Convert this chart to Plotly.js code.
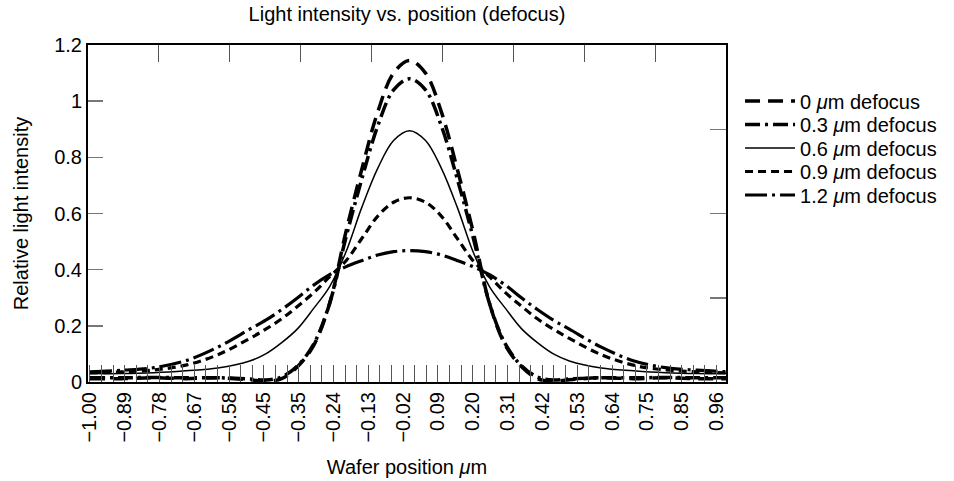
<!DOCTYPE html>
<html>
<head>
<meta charset="utf-8">
<script src="https://cdn.plot.ly/plotly-3.0.1.min.js"></script>
<style>html,body{margin:0;padding:0;background:#fff;}#chart{width:954px;height:481px;}</style>
</head>
<body>
<div id="chart"></div>
<script>
// Wafer positions (µm)
const positions = [-1.0,-0.9,-0.8,-0.7,-0.6,-0.5,-0.45,-0.4,-0.35,-0.3,-0.25,-0.2,-0.15,-0.1,-0.05,0,
                   0.05,0.1,0.15,0.2,0.25,0.3,0.35,0.4,0.45,0.5,0.6,0.7,0.8,0.9,1.0];
// Relative light intensity for each defocus value
const defocus0  = [0.012,0.012,0.015,0.012,0.015,0.008,0.003,0.012,0.055,0.130,0.280,0.530,0.755,0.960,1.100,1.145,
                   1.100,0.960,0.755,0.530,0.280,0.130,0.055,0.012,0.003,0.008,0.015,0.012,0.015,0.012,0.012];
const defocus03 = [0.015,0.015,0.016,0.015,0.015,0.011,0.007,0.018,0.058,0.135,0.280,0.510,0.720,0.910,1.040,1.080,
                   1.040,0.910,0.720,0.510,0.280,0.135,0.058,0.018,0.007,0.011,0.015,0.015,0.016,0.015,0.015];
const defocus06 = [0.030,0.030,0.033,0.040,0.050,0.075,0.100,0.140,0.190,0.262,0.340,0.460,0.620,0.760,0.860,0.895,
                   0.860,0.760,0.620,0.460,0.340,0.262,0.190,0.140,0.100,0.075,0.050,0.040,0.033,0.030,0.030];
const defocus09 = [0.032,0.036,0.043,0.060,0.097,0.155,0.188,0.225,0.270,0.318,0.375,0.430,0.510,0.590,0.640,0.656,
                   0.640,0.590,0.510,0.430,0.375,0.318,0.270,0.225,0.188,0.155,0.097,0.060,0.043,0.036,0.032];
const defocus12 = [0.036,0.042,0.051,0.076,0.124,0.188,0.220,0.258,0.300,0.345,0.382,0.410,0.432,0.452,0.464,0.468,
                   0.464,0.452,0.432,0.410,0.382,0.345,0.300,0.258,0.220,0.188,0.124,0.076,0.051,0.042,0.036];
const seriesNames = ['0 <i>μ</i>m defocus','0.3 <i>μ</i>m defocus','0.6 <i>μ</i>m defocus','0.9 <i>μ</i>m defocus','1.2 <i>μ</i>m defocus'];
// X tick labels
const xTickLabels = ['−1.00','−0.89','−0.78','−0.67','−0.58','−0.45','−0.35','−0.24','−0.13','−0.02',
                     '0.09','0.20','0.31','0.42','0.53','0.64','0.75','0.85','0.96'];
const yTickVals = [0,0.2,0.4,0.6,0.8,1,1.2];
const yTickLabels = ['0','0.2','0.4','0.6','0.8','1','1.2'];

const seriesData = [defocus0, defocus03, defocus06, defocus09, defocus12];
const styles = [
  {width:3.5, dash:'15px,8px'},
  {width:3.5, dash:'15px,5px,3px,5px'},
  {width:1.5, dash:'solid'},
  {width:3.2, dash:'8px,5px'},
  {width:3.2, dash:'22px,5px,3px,5px'}
];
const legendIds = ['legend','legend2','legend3','legend4','legend5'];
const traces = seriesData.map((ys,i)=>({
  type:'scatter', mode:'lines', x:positions, y:ys, name:seriesNames[i], legend:legendIds[i],
  line:{color:'#000', width:styles[i].width, dash:styles[i].dash, shape:'spline', smoothing:1},
  xaxis:'x', yaxis:'y'
}));
// helper traces for top / right tick axes
traces.push({type:'scatter', mode:'lines', x:[0,9], y:[0,0], xaxis:'x2', yaxis:'y', showlegend:false, hoverinfo:'skip', line:{width:0}, opacity:0});
traces.push({type:'scatter', mode:'lines', x:[-1,1], y:[0,1.2], xaxis:'x', yaxis:'y2', showlegend:false, hoverinfo:'skip', line:{width:0}, opacity:0});

const n = xTickLabels.length;
const xTickVals = xTickLabels.map((_,i)=> -1 + i*(1.96/(n-1)));

const FS = 20;
const font = {family:'"Liberation Sans", Arial, Helvetica, sans-serif', color:'#000'};
const f = (s)=>Object.assign({size:s}, font);
const layout = {
  width:954, height:481,
  margin:{l:88, r:226, t:45, b:99},
  paper_bgcolor:'#fff', plot_bgcolor:'#fff',
  font:f(FS),
  showlegend:true,
  title:{text:'Light intensity vs. position (defocus)', x:0.5, xref:'paper', xanchor:'center',
         y:1-14/481, yref:'container', yanchor:'middle', font:f(FS)},
  xaxis:{range:[-1.006,0.99], tickmode:'array', tickvals:xTickVals, ticktext:xTickLabels, tickangle:-90,
         ticks:'inside', ticklen:17, tickcolor:'#555', tickwidth:1,
         minor:{ticks:'inside', ticklen:17, tickcolor:'#555', tickwidth:1, tick0:-1, dtick:1.96/54},
         showline:true, linecolor:'#000', linewidth:2, mirror:true, showgrid:false, zeroline:false,
         tickfont:f(FS),
         title:{text:'Wafer position <i>μ</i>m', standoff:18, font:f(FS)}},
  xaxis2:{overlaying:'x', side:'top', anchor:'y', range:[0,9], tickmode:'array', tickvals:[1,2,3,4,5,6,7,8],
          ticks:'inside', ticklen:17, tickcolor:'#555', tickwidth:1, showticklabels:false, showgrid:false, zeroline:false, showline:false},
  yaxis:{range:[0,1.2], tickmode:'array', tickvals:yTickVals, ticktext:yTickLabels,
         ticks:'inside', ticklen:15, tickcolor:'#777', tickwidth:1.5,
         showline:true, linecolor:'#000', linewidth:2, mirror:true, showgrid:false, zeroline:false,
         tickfont:f(FS),
         title:{text:'Relative light intensity', standoff:20, font:f(FS)}},
  yaxis2:{overlaying:'y', side:'right', anchor:'x', range:[0,1.2], tickmode:'array', tickvals:[0.3,0.6,0.9],
          ticks:'inside', ticklen:16, tickcolor:'#777', tickwidth:1.5, showticklabels:false, showgrid:false, zeroline:false, showline:false}
};
const rowsPx = [101,124.5,148,171.5,195];
legendIds.forEach((id,i)=>{
  layout[id] = {x:1.022, y:(382-rowsPx[i])/337, xanchor:'left', yanchor:'middle', bgcolor:'rgba(0,0,0,0)',
                borderwidth:0, font:f(FS), itemwidth:50};
});
Plotly.newPlot('chart', traces, layout, {displayModeBar:false, staticPlot:true});
</script>
</body>
</html>
